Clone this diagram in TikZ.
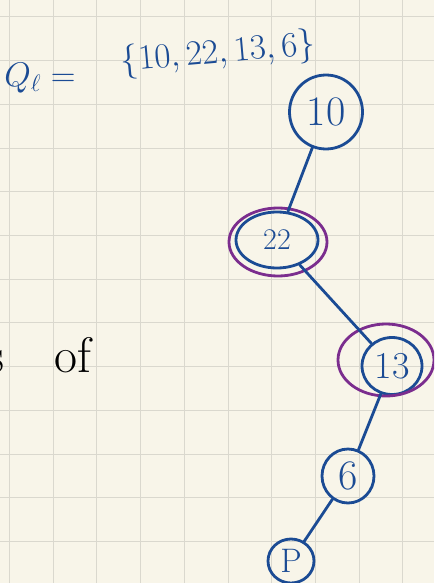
\documentclass[tikz,border=0pt]{standalone}
\usepackage{fontspec}
\usepackage{tikz}
\usetikzlibrary{arrows.meta,positioning,calc,shapes.geometric}
\definecolor{paper}{HTML}{F8F5E9}
\definecolor{gridc}{HTML}{DAD8CE}
\definecolor{ink}{HTML}{1B4B94}
\definecolor{hilite}{HTML}{7B2D8E}
\tikzset{
  key/.style={ellipse, draw=ink, line width=2.8pt, text=ink, inner sep=0pt,
              font=\fontsize{42}{44}\selectfont},
  ring/.style={ellipse, draw=hilite, line width=2.8pt, inner sep=0pt},
  edge/.style={draw=ink, line width=2.8pt, line cap=round},
  note/.style={text=ink, inner sep=0pt, font=\huge, transform shape},
}
\begin{document}
\begin{tikzpicture}[x=1pt,y=-1pt]
    \fill[paper] (0,0) rectangle (434,583);
    \useasboundingbox (0,0) rectangle (434,583);
    \clip (0,0) rectangle (434,583);
    \foreach \k in {0,...,9} \draw[gridc, line width=1pt] (9.5+43.7*\k,0) -- (9.5+43.7*\k,583);
    \foreach \k in {0,...,13} \draw[gridc, line width=1pt] (0,17+43.7*\k) -- (434,17+43.7*\k);

    \node[note, scale=1.65] (ql) at (40,78) {$Q_\ell=$};
    \node[note, scale=1.7, rotate=5] (qset) at (218,54) {$\{10,22,13,6\}$};
    \node[inner sep=0pt, font=\fontsize{50}{54}\selectfont, anchor=base west] (of) at (-14,372) {s\hspace{50pt}of};

    \node[key, minimum width=73pt, minimum height=74pt] (n10) at (326,112) {10};
    \node[key, minimum width=82pt, minimum height=56pt, font=\fontsize{30}{32}\selectfont] (n22) at (277,240) {22};
    \node[key, minimum width=60pt, minimum height=57pt, font=\fontsize{38}{40}\selectfont] (n13) at (392,366) {13};
    \node[key, minimum width=52pt, minimum height=54pt] (n6) at (348,476) {6};
    \node[key, minimum width=46pt, minimum height=44pt, font=\fontsize{34}{36}\selectfont] (np) at (291,561) {P};
    \node[ring, minimum width=98pt, minimum height=68pt] (h22) at (278,242) {};
    \node[ring, minimum width=96pt, minimum height=72pt] (h13) at (386,360) {};

    \draw[edge] (n10) -- (n22);
    \draw[edge] (n22) -- (n13);
    \draw[edge] (n13) -- (n6);
    \draw[edge] (n6) -- (np);
  \end{tikzpicture}
\end{document}
